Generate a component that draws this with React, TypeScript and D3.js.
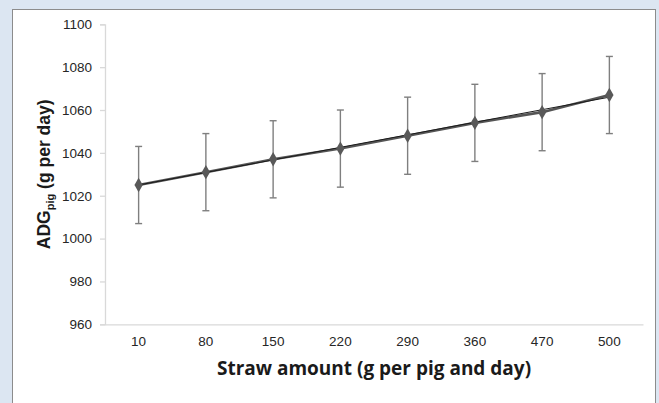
import React, { useEffect, useRef } from "react";
import * as d3 from "d3";

// values
const categories = ["10", "80", "150", "220", "290", "360", "470", "500"];
const adg = [1025, 1031, 1037, 1042, 1048, 1054, 1059, 1067];
const errLow = [1007, 1013, 1019, 1024, 1030, 1036, 1041, 1049];
const errHigh = [1043, 1049, 1055, 1060, 1066, 1072, 1077, 1085];
const trend = [1025, 1066]; // linear trendline, first and last category
const yTicks = [960, 980, 1000, 1020, 1040, 1060, 1080, 1100];

const W = 659, H = 403;

export default function App() {
  const ref = useRef<SVGSVGElement>(null);

  useEffect(() => {
    const svg = d3.select(ref.current);
    svg.selectAll("*").remove();

    // background + white panel
    svg.append("rect").attr("width", W).attr("height", H).attr("fill", "#dce6f2");
    svg.append("rect")
      .attr("x", 12.5).attr("y", 9.5).attr("width", 643).attr("height", 400)
      .attr("fill", "#fff").attr("stroke", "#8c8c8c").attr("stroke-width", 1);

    var margin = { left: 105, right: 643, top: 24.3, bottom: 324.3 };

    const x = d3.scaleBand().domain(categories).range([margin.left, margin.right]);
    const y = d3.scaleLinear().domain([960, 1100]).range([margin.bottom, margin.top]);
    const cx = (c: string) => x(c)! + x.bandwidth() / 2;

    // y axis
    const yAxis = svg.append("g").attr("transform", `translate(${margin.left},0)`)
      .call(d3.axisLeft(y).tickValues(yTicks).tickSize(5).tickPadding(8).tickFormat(d3.format("d")));
    yAxis.attr("font-family", null).attr("font-size", null);
    yAxis.select(".domain").attr("stroke", "#d9d9d9").attr("stroke-width", 1.3);
    yAxis.selectAll(".tick line").attr("stroke", "#d9d9d9").attr("stroke-width", 1.3);
    yAxis.selectAll(".tick text")
      .style("font-family", "'Liberation Sans', Arial, sans-serif")
      .style("font-size", "13.5px").attr("fill", "#262626");

    // x axis
    const xAxis = svg.append("g").attr("transform", `translate(0,${margin.bottom})`)
      .call(d3.axisBottom(x).tickSize(0).tickPadding(12));
    xAxis.attr("font-family", null).attr("font-size", null);
    xAxis.select(".domain").attr("stroke", "#d9d9d9").attr("stroke-width", 1.3);
    xAxis.selectAll(".tick text")
      .style("font-family", "'Liberation Sans', Arial, sans-serif")
      .style("font-size", "13.5px").attr("fill", "#262626");

    // error bars
    const eb = svg.append("g").attr("stroke", "#7f7f7f").attr("stroke-width", 1.4);
    categories.forEach((c, i) => {
      const px = cx(c);
      eb.append("line").attr("x1", px).attr("x2", px).attr("y1", y(errLow[i])).attr("y2", y(errHigh[i]));
      eb.append("line").attr("x1", px - 3.5).attr("x2", px + 3.5).attr("y1", y(errLow[i])).attr("y2", y(errLow[i]));
      eb.append("line").attr("x1", px - 3.5).attr("x2", px + 3.5).attr("y1", y(errHigh[i])).attr("y2", y(errHigh[i]));
    });

    // series line
    const line = d3.line<number>().x((d, i) => cx(categories[i])).y(d => y(d));
    svg.append("path").datum(adg).attr("d", line)
      .attr("fill", "none").attr("stroke", "#555").attr("stroke-width", 2.6);

    // trendline
    svg.append("line")
      .attr("x1", cx(categories[0])).attr("y1", y(trend[0]))
      .attr("x2", cx(categories[categories.length - 1])).attr("y2", y(trend[1]))
      .attr("stroke", "#1a1a1a").attr("stroke-width", 1);

    // markers
    const sym = d3.symbol().type(d3.symbolDiamond).size(60);
    svg.append("g").selectAll("path").data(adg).join("path")
      .attr("d", sym)
      .attr("transform", (d, i) => `translate(${cx(categories[i])},${y(d)})`)
      .attr("fill", "#595959");

    // axis titles
    svg.append("text")
      .attr("x", (margin.left + margin.right) / 2).attr("y", 375)
      .attr("text-anchor", "middle")
      .style("font-family", "'Open Sans', Lato, sans-serif").style("font-weight", "bold")
      .style("font-size", "19px").attr("fill", "#1a1a1a")
      .text("Straw amount (g per pig and day)");

    const yt = svg.append("text")
      .attr("transform", `translate(50,${(margin.top + margin.bottom) / 2}) rotate(-90)`)
      .attr("text-anchor", "middle")
      .style("font-family", "'Liberation Sans', Arial, sans-serif").style("font-weight", "bold")
      .style("font-size", "17.5px").attr("fill", "#1a1a1a");
    yt.append("tspan").text("ADG");
    yt.append("tspan").style("font-size", "11px").attr("dy", 4).text("pig");
    yt.append("tspan").attr("dy", -4).text(" (g per day)");
  }, []);

  return (
    <svg ref={ref} width={W} height={H}
      style={{ position: "absolute", left: 0, top: 0, display: "block" }} />
  );
}
